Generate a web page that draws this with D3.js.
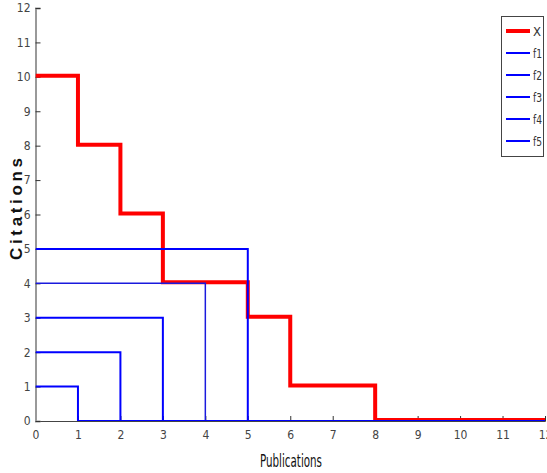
<!DOCTYPE html>
<html>
<head>
<meta charset="utf-8">
<script src="https://cdn.jsdelivr.net/npm/d3@7"></script>
<style>
  body { margin: 0; background: #fff; }
  svg text { font-family: "Liberation Sans Narrow", "DejaVu Sans Condensed", "Liberation Sans", Arial, sans-serif; }
</style>
</head>
<body>
<svg id="chart" width="547" height="473"></svg>
<script>
// publications (x) 0..12
var pubs = [0, 1, 2, 3, 4, 5, 6, 7, 8, 9, 10, 11, 12];
// citations, step after each publication
var X  = [10, 8, 6, 4, 4, 3, 1, 1, 0, 0, 0, 0, 0];
var f1 = [1, 0, 0, 0, 0, 0, 0, 0, 0, 0, 0, 0, 0];
var f2 = [2, 2, 0, 0, 0, 0, 0, 0, 0, 0, 0, 0, 0];
var f3 = [3, 3, 3, 0, 0, 0, 0, 0, 0, 0, 0, 0, 0];
var f4 = [4, 4, 4, 4, 0, 0, 0, 0, 0, 0, 0, 0, 0];
var f5 = [5, 5, 5, 5, 5, 0, 0, 0, 0, 0, 0, 0, 0];
var xTicks = [0, 1, 2, 3, 4, 5, 6, 7, 8, 9, 10, 11, 12];
var yTicks = [0, 1, 2, 3, 4, 5, 6, 7, 8, 9, 10, 11, 12];
var seriesNames = ["X", "f1", "f2", "f3", "f4", "f5"];

var svg = d3.select("#chart"),
    mLeft = 35.5, mRight = 545, mTop = 8, mBottom = 421;

var x = d3.scaleLinear().domain([0, 12]).range([mLeft, mRight]);
var y = d3.scaleLinear().domain([0, 12]).range([mBottom, mTop]);

svg.append("defs").append("clipPath").attr("id", "plot")
    .append("rect")
    .attr("x", mLeft).attr("y", mTop - 2)
    .attr("width", mRight - mLeft).attr("height", mBottom - mTop + 2);

// axes with inside ticks
var xAxis = svg.append("g")
    .attr("transform", "translate(0," + mBottom + ")")
    .call(d3.axisBottom(x).tickValues(xTicks).tickSize(-5).tickPadding(9).tickFormat(d3.format("d")));
var yAxis = svg.append("g")
    .attr("transform", "translate(" + mLeft + ",0)")
    .call(d3.axisLeft(y).tickValues(yTicks).tickSize(-5).tickPadding(5).tickFormat(d3.format("d")));

xAxis.select(".domain").attr("stroke", "#444");
yAxis.select(".domain").attr("stroke", "#999").attr("stroke-width", 2);
[xAxis, yAxis].forEach(function (g) {
    g.selectAll(".tick line").attr("stroke", "#333");
    g.selectAll(".tick text").attr("fill", "#444").attr("font-size", 12)
        .style("font-family", null);
});

var line = d3.line()
    .x(function (d, i) { return x(pubs[i]); })
    .y(function (d) { return y(d); })
    .curve(d3.curveStepAfter);

var plot = svg.append("g").attr("clip-path", "url(#plot)");

plot.append("path")
    .datum(X)
    .attr("d", line)
    .attr("fill", "none")
    .attr("stroke", "#ff0000")
    .attr("stroke-width", 4)
    .attr("transform", "translate(0,-1)");

[f5, f4, f3, f2, f1].forEach(function (f) {
    plot.append("path")
        .datum(f)
        .attr("d", line)
        .attr("fill", "none")
        .attr("stroke", f === f4 ? "#1a1add" : "#0000ff")
        .attr("stroke-width", f === f4 ? 1.5 : 2);
});

// axis labels
svg.append("text")
    .attr("x", 291).attr("y", 467)
    .attr("text-anchor", "middle")
    .attr("font-size", 18)
    .attr("fill", "#111")
    .attr("textLength", 62)
    .attr("lengthAdjust", "spacingAndGlyphs")
    .text("Publications");

svg.append("text")
    .attr("transform", "translate(22,209) rotate(-90)")
    .attr("text-anchor", "middle")
    .attr("font-size", 17)
    .attr("font-weight", "bold")
    .attr("textLength", 102)
    .attr("fill", "#111")
    .style("font-family", "'Liberation Sans', Arial, sans-serif")
    .text("Citations");

// legend
var legend = svg.append("g");
legend.append("rect")
    .attr("x", 501.5).attr("y", 16.5)
    .attr("width", 42).attr("height", 140)
    .attr("fill", "#fff")
    .attr("stroke", "#444");

var legendColor = d3.scaleOrdinal().domain(seriesNames)
    .range(["#ff0000", "#0000ff", "#0000ff", "#0000ff", "#0000ff", "#0000ff"]);
var legendY = d3.scalePoint().domain(seriesNames).range([31, 141]);

seriesNames.forEach(function (name, i) {
    var t = legend.append("text")
        .attr("x", 533).attr("y", legendY(name) + 5)
        .attr("font-size", 13)
        .attr("fill", "#333")
        .text(name);
    if (name.length > 1) t.attr("textLength", 9).attr("lengthAdjust", "spacingAndGlyphs");
    legend.append("line")
        .attr("x1", 506).attr("x2", 530)
        .attr("y1", legendY(name)).attr("y2", legendY(name))
        .attr("stroke", legendColor(name))
        .attr("stroke-width", i === 0 ? 4 : 2);
});
</script>
</body>
</html>
